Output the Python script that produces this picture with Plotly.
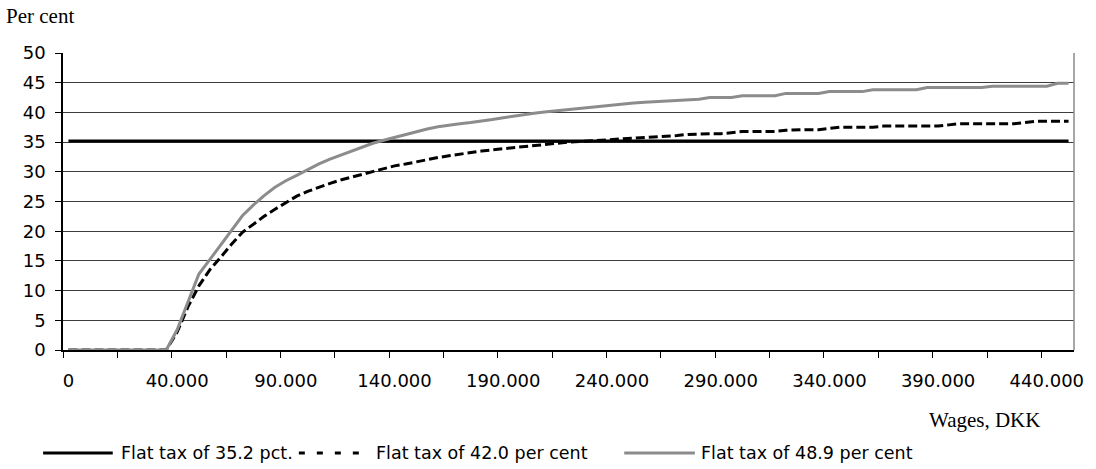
import plotly.graph_objects as go

# Wage categories (DKK): finer steps below 40.000, then 5.000 steps up to 450.000
wages = list(range(0, 40000, 4000)) + list(range(40000, 455000, 5000))

# Average tax rate (per cent) under the three flat-tax scenarios
flat_352 = [35.2] * len(wages)

flat_420 = [
    0, 0, 0, 0, 0, 0, 0, 0, 0, 0,
    3.0, 7.3, 10.8, 13.5, 15.6, 17.8, 19.8, 21.2, 22.5, 23.7,
    24.8, 25.9, 26.7, 27.4, 28.0, 28.6, 29.1, 29.6, 30.1, 30.5,
    31.0, 31.3, 31.7, 32.0, 32.4, 32.7, 33.0, 33.2, 33.5, 33.7,
    33.9, 34.1, 34.3, 34.5, 34.7, 34.9, 35.0, 35.1, 35.2, 35.3,
    35.4, 35.6, 35.7, 35.8, 35.9, 36.0, 36.1, 36.3, 36.4, 36.4,
    36.4, 36.6, 36.8, 36.8, 36.8, 36.8, 37.0, 37.1, 37.1, 37.1,
    37.3, 37.5, 37.5, 37.5, 37.5, 37.7, 37.7, 37.7, 37.7, 37.7,
    37.7, 37.9, 38.1, 38.1, 38.1, 38.1, 38.1, 38.1, 38.3, 38.5,
    38.5, 38.5, 38.5,
]

flat_489 = [
    0, 0, 0, 0, 0, 0, 0, 0, 0, 0,
    3.4, 8.2, 12.8, 15.2, 17.7, 20.3, 22.6, 24.4, 26.0, 27.4,
    28.5, 29.4, 30.4, 31.3, 32.1, 32.8, 33.5, 34.2, 34.8, 35.3,
    35.8, 36.3, 36.8, 37.2, 37.6, 37.9, 38.1, 38.3, 38.5, 38.8,
    39.1, 39.4, 39.7, 39.9, 40.1, 40.3, 40.4, 40.6, 40.9, 41.1,
    41.3, 41.5, 41.6, 41.7, 41.8, 41.9, 42.0, 42.1, 42.2, 42.5,
    42.5, 42.5, 42.8, 42.8, 42.8, 42.8, 43.2, 43.2, 43.2, 43.2,
    43.5, 43.5, 43.5, 43.5, 43.8, 43.8, 43.8, 43.8, 43.8, 44.2,
    44.2, 44.2, 44.2, 44.2, 44.2, 44.4, 44.4, 44.4, 44.4, 44.4,
    44.4, 44.9, 44.9,
]

series_names = [
    "Flat tax of 35.2 pct.",
    "Flat tax of 42.0 per cent",
    "Flat tax of 48.9 per cent",
]

y_ticks = list(range(0, 55, 5))

positions = list(range(len(wages)))
label_idx = positions[::10]
label_text = [f"{wages[i]:,}".replace(",", ".") for i in label_idx]

styles = [
    dict(color="#000000", width=3, dash="solid"),
    dict(color="#000000", width=3, dash="9px,4px"),
    dict(color="#8c8c8c", width=3, dash="solid"),
]

SANS = "DejaVu Sans"
SERIF = "Liberation Serif"

fig = go.Figure()
for vals, name, st in zip([flat_352, flat_420, flat_489], series_names, styles):
    fig.add_trace(go.Scatter(
        x=positions, y=vals, mode="lines", name=name,
        line=dict(color=st["color"], width=st["width"], dash=st["dash"]),
        showlegend=False, hoverinfo="skip",
    ))

fig.update_layout(
    width=1096, height=469,
    margin=dict(l=63, r=17, t=53, b=119),
    paper_bgcolor="white", plot_bgcolor="white",
    font=dict(family=SANS, size=18, color="black"),
)

fig.update_xaxes(
    range=[-0.5, len(wages) - 0.5],
    tickmode="array", tickvals=label_idx, ticktext=label_text,
    ticks="", showgrid=False, zeroline=False,
    showline=True, linecolor="black", linewidth=1.5,
    tickfont=dict(family=SANS, size=18),
    ticklabelstandoff=14,
    minor=dict(tickmode="array",
               tickvals=[i - 0.5 for i in positions[::5]],
               ticks="outside", ticklen=6, tickwidth=1, tickcolor="black",
               showgrid=False),
)

fig.update_yaxes(
    range=[0, 50], tickmode="array", tickvals=y_ticks,
    ticks="outside", ticklen=6, tickwidth=1, tickcolor="black",
    showgrid=True, gridcolor="#3c3c3c", gridwidth=1,
    zeroline=False, showline=True, linecolor="black", linewidth=1.5,
    tickfont=dict(family=SANS, size=18),
    ticklabelstandoff=6,
)

# right-hand frame edge
fig.add_shape(type="line", xref="paper", yref="paper",
              x0=1, x1=1, y0=0, y1=1,
              line=dict(color="#8a8a8a", width=1.5))

# axis titles
fig.add_annotation(text="Per cent", xref="paper", yref="paper",
                   x=-0.058, y=1.125, xanchor="left", yanchor="middle",
                   showarrow=False, font=dict(family=SERIF, size=21))
fig.add_annotation(text="Wages, DKK", xref="paper", yref="paper",
                   x=0.968, y=-0.237, xanchor="right", yanchor="middle",
                   showarrow=False, font=dict(family=SERIF, size=21))

# legend row below the plot
PLOT_L, PLOT_W, PLOT_B, PLOT_H = 63, 1016, 350, 297


def px_x(px):
    return (px - PLOT_L) / PLOT_W


legend_y = (PLOT_B - 453) / PLOT_H
legend_items = [(43, 113, 119), (300, 372, 376), (627, 698, 702)]
legend_dash = ["solid", "6px,12px", "solid"]
for (x0, x1, xt), name, st, dsh in zip(legend_items, series_names, styles, legend_dash):
    fig.add_shape(type="line", xref="paper", yref="paper",
                  x0=px_x(x0), x1=px_x(x1), y0=legend_y, y1=legend_y,
                  line=dict(color=st["color"], width=3, dash=dsh))
    fig.add_annotation(text=name, xref="paper", yref="paper",
                       x=px_x(xt), y=legend_y, xanchor="left", yanchor="middle",
                       showarrow=False, font=dict(family=SANS, size=17.5))

fig.write_html("out.html")
